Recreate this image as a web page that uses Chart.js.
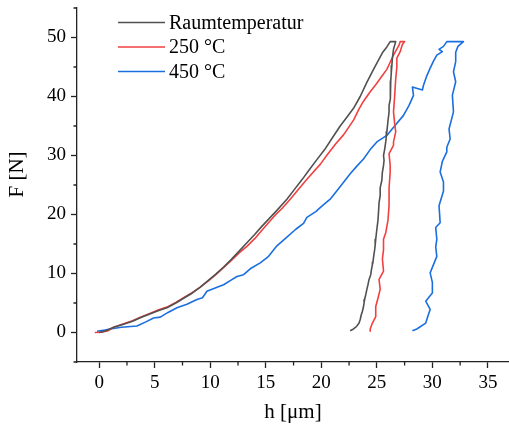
<!DOCTYPE html>
<html><head><meta charset="utf-8">
<script src="https://cdn.jsdelivr.net/npm/chart.js@4.4.1/dist/chart.umd.min.js"></script>
<style>html,body{margin:0;padding:0;background:#fff;}canvas{display:block;}</style>
</head><body>
<canvas id="c" width="509" height="427"></canvas>
<script>
// ---- data (h in µm, F in N) ----
const seriesLabels = ['Raumtemperatur', '250 °C', '450 °C'];
const seriesColors = ['#515151', '#F14040', '#1A6FDF'];

const rtH = [0.0,0.6,1.3,2.2,3.0,3.7,4.5,5.3,6.1,6.9,7.6,8.4,9.1,9.8,10.5,11.2,11.9,12.6,13.3,14.0,14.6,15.3,16.0,16.9,17.6,18.3,19.0,19.6,20.3,21.0,21.7,22.3,22.9,23.5,24.1,24.7,25.1,25.5,25.9,26.2,26.7,
  26.5,26.4,26.35,26.3,26.25,26.2,26.25,26.2,26.1,26.1,26.0,25.9,25.85,25.8,25.7,25.6,25.65,25.6,25.5,25.45,25.3,25.3,25.2,25.15,25.1,25.0,24.9,24.85,24.8,24.7,24.65,24.6,24.5,24.45,24.3,24.2,24.1,24.0,23.9,23.85,23.8,23.7,23.6,23.5,23.4,23.2,23.1,22.9,22.6];
const rtF = [0.0,0.3,0.9,1.4,1.9,2.5,3.1,3.7,4.2,5.0,5.8,6.7,7.7,8.8,9.9,11.1,12.4,13.8,15.2,16.6,17.9,19.3,20.7,22.6,24.3,26.0,27.8,29.3,31.0,33.0,35.0,36.5,38.0,40.0,42.4,44.6,46.0,47.4,48.4,49.3,49.3,
  48.0,46.5,45.2,44.0,42.6,41.5,40.4,39.6,38.5,37.4,35.8,34.0,33.1,32.3,31.0,30.0,29.2,28.3,27.2,25.8,24.5,23.2,22.0,20.4,19.0,17.5,15.8,14.8,14.0,12.7,11.9,11.5,10.5,9.8,9.0,8.1,7.3,6.4,5.6,5.0,4.4,3.6,3.0,2.2,1.6,1.1,0.9,0.6,0.3];

const h250 = [-0.4,0.2,0.8,1.3,2.2,3.0,3.7,4.5,5.3,6.1,6.9,7.6,8.4,9.1,9.8,10.5,11.2,11.9,12.6,13.3,14.0,15.0,15.8,16.5,17.2,18.0,18.8,19.9,20.6,21.3,22.0,22.9,23.4,23.8,24.4,24.9,25.4,25.9,26.2,26.5,27.0,27.1,27.5,
  27.3,27.1,26.8,26.8,26.7,26.6,26.5,26.6,26.7,26.5,26.5,26.1,26.2,26.2,26.1,26.1,26.0,25.8,25.6,25.6,25.5,25.6,25.2,25.3,25.1,24.9,24.9,24.6,24.4,24.4];
const F250 = [0.0,0.05,0.3,0.9,1.5,2.0,2.6,3.2,3.8,4.3,5.1,5.9,6.8,7.7,8.7,9.8,11.0,12.2,13.5,14.6,15.9,18.1,19.8,21.1,22.6,24.4,26.2,28.5,30.3,32.0,33.5,36.0,37.9,39.2,40.8,42.0,43.3,44.6,45.8,47.0,48.7,49.3,49.3,
  48.8,47.6,46.5,45.0,43.0,40.0,37.4,35.5,34.0,32.3,31.7,30.3,28.3,27.2,24.5,21.5,19.0,16.9,15.8,14.0,12.5,10.4,9.0,7.3,5.8,4.4,2.7,1.6,0.6,0.2];

const h450 = [-0.2,0.5,1.0,2.0,3.4,4.2,4.9,5.5,6.2,7.0,7.9,8.8,9.3,9.7,10.5,11.2,11.8,12.4,13.0,13.6,14.5,15.2,16.0,16.8,17.7,18.4,18.7,19.5,20.1,20.8,21.6,22.6,23.2,23.8,24.4,25.0,25.9,26.6,27.4,27.9,28.3,28.2,29.1,29.2,29.5,29.8,30.1,30.4,30.9,30.6,31.0,31.3,32.0,32.8,
  32.3,32.1,32.1,31.9,32.1,31.8,31.9,31.5,31.6,31.3,31.3,30.9,30.7,31.0,31.0,30.6,30.7,30.3,30.4,30.3,30.4,29.8,30.0,30.0,29.4,29.8,29.6,29.4,28.6,28.2];
const F450 = [0.2,0.4,0.6,0.9,1.1,1.8,2.45,2.6,3.4,4.2,4.8,5.6,5.9,7.0,7.6,8.1,8.8,9.5,9.8,10.8,11.8,12.8,14.7,16.0,17.5,18.5,19.5,20.5,21.5,22.6,24.5,26.9,28.2,29.4,31.0,32.3,33.4,35.0,36.8,38.5,40.2,41.6,41.1,41.9,43.5,44.8,46.0,47.0,47.6,48.0,48.5,49.3,49.3,49.3,
  48.5,47.5,45.9,44.2,42.5,40.2,37.4,34.5,32.8,31.4,30.6,29.0,27.2,25.5,24.0,21.5,18.6,17.8,15.8,14.5,12.9,10.1,8.5,6.7,5.3,3.9,2.8,1.6,0.6,0.3];

const xMajorTicks = [0, 5, 10, 15, 20, 25, 30, 35];
const xMinorTicks = [2.5, 7.5, 12.5, 17.5, 22.5, 27.5, 32.5];
const yMajorTicks = [0, 10, 20, 30, 40, 50];
const yMinorTicks = [-5, 5, 15, 25, 35, 45, 55];

// ---- build ----
const seriesH = [rtH, h250, h450];
const seriesF = [rtF, F250, F450];
const datasets = seriesLabels.map((lab, i) => ({
  label: lab,
  data: seriesH[i].map((v, j) => ({ x: v, y: seriesF[i][j] })),
  borderColor: seriesColors[i],
  backgroundColor: seriesColors[i],
  borderWidth: 1.6,
  pointRadius: 0,
  showLine: true,
  tension: 0,
  fill: false,
  borderJoinStyle: 'round'
}));

const SERIF = '"Liberation Serif", "Times New Roman", serif';
const AX = '#222';

const extrasPlugin = {
  id: 'extras',
  afterDraw(chart) {
    const ctx = chart.ctx, xs = chart.scales.x, ys = chart.scales.y;
    ctx.save();
    ctx.strokeStyle = AX; ctx.lineWidth = 1.3;
    ctx.beginPath();
    xMinorTicks.forEach(v => { const p = xs.getPixelForValue(v); ctx.moveTo(p, xs.top); ctx.lineTo(p, xs.top + 3.5); });
    yMinorTicks.forEach(v => { const p = ys.getPixelForValue(v); ctx.moveTo(ys.right, p); ctx.lineTo(ys.right - 3.5, p); });
    ctx.stroke();
    chart.data.datasets.forEach((ds, i) => {
      const y = 22.5 + i * 24.5;
      ctx.strokeStyle = ds.borderColor; ctx.lineWidth = 1.5;
      ctx.beginPath(); ctx.moveTo(118, y); ctx.lineTo(165, y); ctx.stroke();
      ctx.fillStyle = '#000'; ctx.font = '20px ' + SERIF; ctx.textBaseline = 'middle'; ctx.textAlign = 'left';
      ctx.fillText(ds.label, 169, y + 1);
    });
    ctx.restore();
  }
};

new Chart(document.getElementById('c'), {
  type: 'scatter',
  data: { datasets },
  options: {
    responsive: false,
    animation: false,
    devicePixelRatio: 1,
    layout: { padding: { left: 0, top: 8, right: 0, bottom: 0 } },
    plugins: { legend: { display: false }, tooltip: { enabled: false } },
    scales: {
      x: {
        type: 'linear', min: -2, max: 36.9,
        afterBuildTicks: s => { s.ticks = xMajorTicks.map(v => ({ value: v })); },
        afterFit: s => { s.height = 65; s.paddingLeft = 0; s.paddingRight = 0; },
        ticks: { font: { family: SERIF, size: 19 }, color: '#000', padding: 4, maxRotation: 0, autoSkip: false },
        grid: { drawOnChartArea: false, drawTicks: true, tickLength: 6, tickColor: AX, tickWidth: 1.3 },
        border: { display: true, color: AX, width: 1.3 },
        title: { display: true, text: 'h [μm]', font: { family: SERIF, size: 21 }, color: '#000', padding: { top: 0, bottom: 2 } }
      },
      y: {
        type: 'linear', min: -5, max: 55,
        afterBuildTicks: s => { s.ticks = yMajorTicks.map(v => ({ value: v })); },
        afterFit: s => { s.width = 77; s.paddingTop = 0; s.paddingBottom = 0; },
        ticks: { font: { family: SERIF, size: 19 }, color: '#000', padding: 5, autoSkip: false },
        grid: { drawOnChartArea: false, drawTicks: true, tickLength: 6, tickColor: AX, tickWidth: 1.3 },
        border: { display: true, color: AX, width: 1.3 },
        title: { display: true, text: '\u2002\u2002F [N]', font: { family: SERIF, size: 21 }, color: '#000', padding: { top: 5, bottom: 0 } }
      }
    }
  },
  plugins: [extrasPlugin]
});
</script>
</body></html>
